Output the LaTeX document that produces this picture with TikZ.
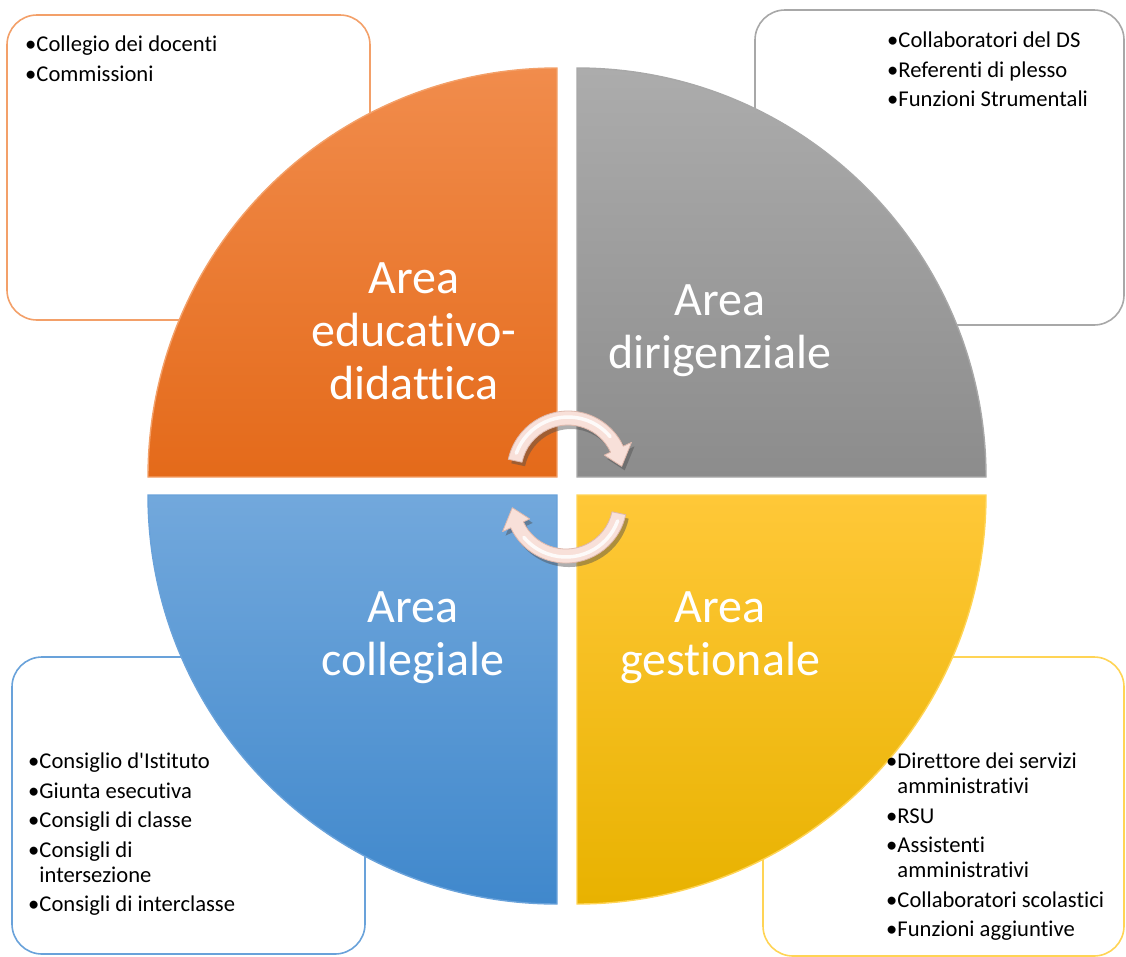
\documentclass[tikz,border=0pt]{standalone}
\usepackage{fontspec}
\setmainfont{Carlito}[Ligatures=NoCommon]
\usetikzlibrary{shadows,calc}

\definecolor{eduTop}{RGB}{241,140,76}
\definecolor{eduBot}{RGB}{228,106,26}
\definecolor{eduLine}{RGB}{243,160,105}
\definecolor{dirTop}{RGB}{172,172,172}
\definecolor{dirBot}{RGB}{140,140,140}
\definecolor{dirLine}{RGB}{168,168,168}
\definecolor{colTop}{RGB}{114,168,220}
\definecolor{colBot}{RGB}{64,136,204}
\definecolor{colLine}{RGB}{105,162,218}
\definecolor{gesTop}{RGB}{255,200,56}
\definecolor{gesBot}{RGB}{232,178,0}
\definecolor{gesLine}{RGB}{255,212,85}
\definecolor{cycFill}{RGB}{248,224,217}
\definecolor{cycLine}{RGB}{222,184,172}

\tikzset{
  listbox/.style={line width=1.6, rounded corners=30, fill=white},
  quadlabel/.style={text=white, align=center, inner sep=0pt, font=\fontsize{48}{53}\selectfont},
  listtext/.style={anchor=north west, inner sep=0pt, align=left, font=\fontsize{22.6}{25}\selectfont},
  cyclearrow/.style={fill=cycFill, draw=cycLine, line width=0.8, line join=round,
    drop shadow={shadow xshift=3pt, shadow yshift=-4pt, opacity=0.45, fill=black!70}},
  cycshine/.style={white, line width=3.5, line cap=round, opacity=0.85}
}
\newcommand{\itm}{\textbullet}
\newcommand{\nxt}{\\[4.5pt]}

\begin{document}
\begin{tikzpicture}[x=1pt,y=1pt,yscale=-1,xscale=1]
\useasboundingbox (0,0) rectangle (1126,956);

%Shape: Rectangle [id:edubox]
\draw [listbox, draw=eduLine] (7,15) rectangle (370,320) ;
%Shape: Rectangle [id:dirbox]
\draw [listbox, draw=dirLine] (755,10) rectangle (1124,325) ;
%Shape: Rectangle [id:colbox]
\draw [listbox, draw=colLine] (12,657) rectangle (365,954) ;
%Shape: Rectangle [id:gesbox]
\draw [listbox, draw=gesLine] (763,657) rectangle (1124,956) ;

%Shape: Quarter Circle [id:eduquad]
\shade [top color=eduTop, bottom color=eduBot, draw=eduLine, line width=1.4] (557,477) -- (148,477) arc [start angle=180, end angle=270, radius=409] -- cycle ;
%Shape: Quarter Circle [id:dirquad]
\shade [top color=dirTop, bottom color=dirBot, draw=dirLine, line width=1.4] (577,477) -- (577,68) arc [start angle=270, end angle=360, radius=409] -- cycle ;
%Shape: Quarter Circle [id:gesquad]
\shade [top color=gesTop, bottom color=gesBot, draw=gesLine, line width=1.4] (577,495) -- (986,495) arc [start angle=0, end angle=90, radius=409] -- cycle ;
%Shape: Quarter Circle [id:colquad]
\shade [top color=colTop, bottom color=colBot, draw=colLine, line width=1.4] (557,495) -- (557,904) arc [start angle=90, end angle=180, radius=409] -- cycle ;

%Shape: Circular Arrow [id:cycup]
\coordinate (cu) at (568,472);
\draw [cyclearrow] ($(cu)+(192:61)$) arc [start angle=192, end angle=335, radius=61] -- ($(cu)+(335:70)$) -- ($(cu)+(354:54)$) -- ($(cu)+(335:40)$) -- ($(cu)+(335:47)$) arc [start angle=335, end angle=192, radius=47] -- cycle ;
\draw [cycshine] ($(cu)+(200:55)$) arc [start angle=200, end angle=320, radius=55] ;
%Shape: Circular Arrow [id:cycdown]
\coordinate (cd) at (566,502);
\draw [cyclearrow] ($(cd)+(12:61)$) arc [start angle=12, end angle=155, radius=61] -- ($(cd)+(155:70)$) -- ($(cd)+(174:54)$) -- ($(cd)+(155:40)$) -- ($(cd)+(155:47)$) arc [start angle=155, end angle=12, radius=47] -- cycle ;
\draw [cycshine] ($(cd)+(20:55)$) arc [start angle=20, end angle=140, radius=55] ;

% Text Node
\draw (414,331) node [quadlabel] (edulabel) {Area\\educativo-\\didattica};
% Text Node
\draw (720,331) node [quadlabel] (dirlabel) {Area\\dirigenziale};
% Text Node
\draw (413,638) node [quadlabel] (collabel) {Area\\collegiale};
% Text Node
\draw (720,638) node [quadlabel] (geslabel) {Area\\gestionale};

% Text Node
\draw (25,36) node [listtext] (edulist) {\itm Collegio dei docenti\nxt \itm Commissioni};
% Text Node
\draw (887,32) node [listtext] (dirlist) {\itm Collaboratori del DS\nxt \itm Referenti di plesso\nxt \itm Funzioni Strumentali};
% Text Node
\draw (28,753) node [listtext] (collist) {\itm Consiglio d\textquotesingle Istituto\nxt \itm Giunta esecutiva\nxt \itm Consigli di classe\nxt \itm Consigli di\\\phantom{\itm}intersezione\nxt \itm Consigli di interclasse};
% Text Node
\draw (886,753) node [listtext] (geslist) {\itm Direttore dei servizi\\\phantom{\itm}amministrativi\nxt \itm RSU\nxt \itm Assistenti\\\phantom{\itm}amministrativi\nxt \itm Collaboratori scolastici\nxt \itm Funzioni aggiuntive};

\end{tikzpicture}
\end{document}
